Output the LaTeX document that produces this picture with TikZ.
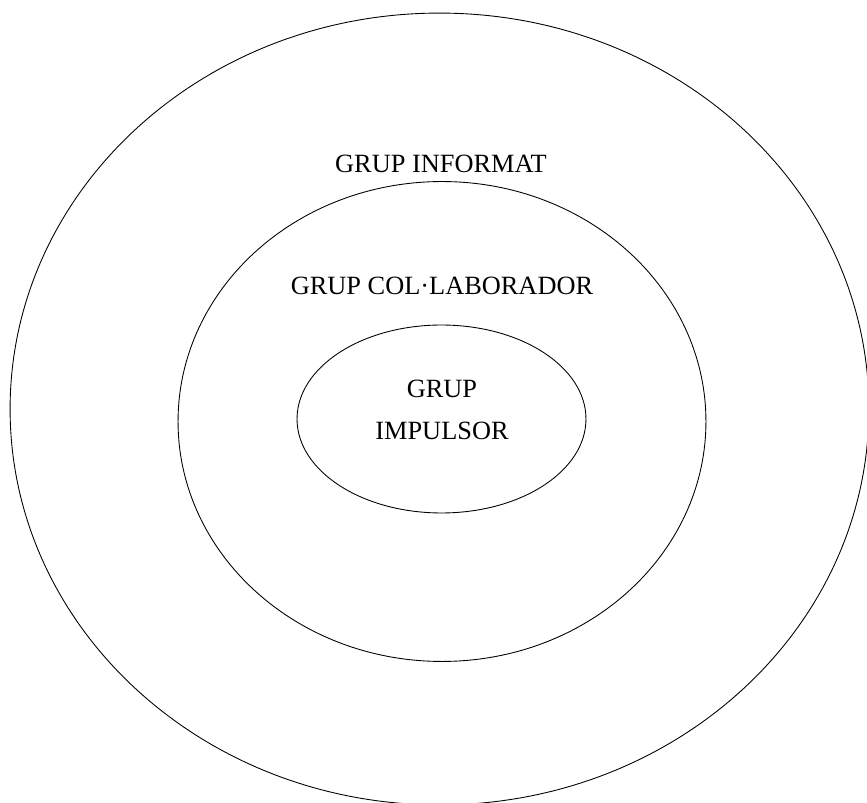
\documentclass[tikz,border=0pt]{standalone}
\usepackage{fontspec}
\setmainfont{Liberation Serif}
\usetikzlibrary{shapes.geometric,positioning}

\begin{document}
\begin{tikzpicture}[
    x=0.02cm, y=-0.02cm,
    ring/.style={ellipse, draw=black, line width=0.5pt, inner sep=0pt},
    grouplabel/.style={font=\fontsize{15}{24}\selectfont, align=center, inner sep=0pt}
]
    \useasboundingbox (0,0) rectangle (867,803);
    \node[ring, minimum width=17.18cm, minimum height=15.84cm] (informat) at (439.5,409) {};
    \node[ring, minimum width=10.56cm, minimum height=9.6cm] (collab) at (442,421.5) {};
    \node[ring, minimum width=5.78cm, minimum height=3.76cm] (impulsor) at (441.5,419) {};

    \node[grouplabel] (informatlabel) at (441,164) {GRUP INFORMAT};
    \node[grouplabel] (collablabel) at (442,286) {GRUP COL·LABORADOR};
    \node[grouplabel] (impulsorlabel) at (442,410) {GRUP\\IMPULSOR};
\end{tikzpicture}
\end{document}
